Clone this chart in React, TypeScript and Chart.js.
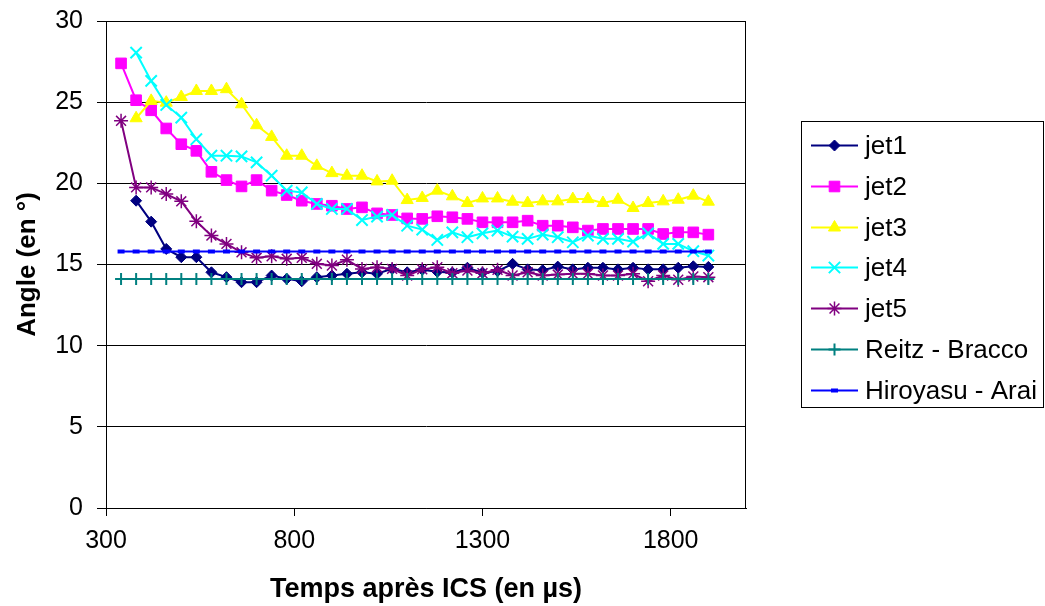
import React, { useEffect, useRef } from 'react';
import { Chart, registerables } from 'chart.js';
import { drawPoint } from 'chart.js/helpers';

Chart.register(...registerables);

// ---------- data ----------
const TIMES = [
  340, 380, 420, 460, 500, 540, 580, 620, 660, 700,
  740, 780, 820, 860, 900, 940, 980, 1020, 1060, 1100,
  1140, 1180, 1220, 1260, 1300, 1340, 1380, 1420, 1460, 1500,
  1540, 1580, 1620, 1660, 1700, 1740, 1780, 1820, 1860, 1900,
];

const JET1 = [
  null, 18.93, 17.64, 15.96, 15.45, 15.45, 14.52, 14.22, 13.91, 13.91,
  14.32, 14.12, 13.97, 14.22, 14.32, 14.43, 14.52, 14.43, 14.73, 14.52,
  14.68, 14.55, 14.5, 14.8, 14.5, 14.59, 15.04, 14.7, 14.65, 14.87,
  14.7, 14.8, 14.8, 14.7, 14.8, 14.7, 14.7, 14.8, 14.89, 14.85,
];

const JET2 = [
  27.39, 25.12, 24.5, 23.38, 22.41, 22.0, 20.71, 20.2, 19.81, 20.2,
  19.55, 19.28, 18.93, 18.73, 18.62, 18.42, 18.52, 18.15, 18.05, 17.84,
  17.81, 17.97, 17.91, 17.81, 17.6, 17.6, 17.6, 17.7, 17.39, 17.39,
  17.29, 17.09, 17.19, 17.19, 17.19, 17.19, 16.88, 16.98, 16.98, 16.84,
];

const JET3 = [
  null, 24.01, 25.08, 24.97, 25.32, 25.69, 25.69, 25.8, 24.87, 23.58,
  22.86, 21.7, 21.7, 21.08, 20.63, 20.47, 20.47, 20.12, 20.16, 18.97,
  19.1, 19.55, 19.2, 18.79, 19.07, 19.07, 18.87, 18.79, 18.89, 18.89,
  19.03, 19.03, 18.79, 18.99, 18.48, 18.79, 18.89, 18.99, 19.24, 18.87,
];

const JET4 = [
  null, 28.05, 26.31, 24.83, 24.05, 22.72, 21.7, 21.7, 21.66, 21.29,
  20.47, 19.55, 19.44, 18.73, 18.42, 18.42, 17.74, 17.95, 18.05, 17.39,
  17.15, 16.51, 16.98, 16.68, 16.92, 17.09, 16.72, 16.58, 16.84, 16.68,
  16.37, 16.78, 16.58, 16.58, 16.41, 16.92, 16.27, 16.27, 15.82, 15.55,
];

const JET5 = [
  23.85, 19.75, 19.75, 19.34, 18.89, 17.66, 16.78, 16.27, 15.75, 15.41,
  15.51, 15.35, 15.41, 15.04, 14.94, 15.29, 14.73, 14.83, 14.73, 14.32,
  14.7, 14.83, 14.46, 14.63, 14.46, 14.67, 14.32, 14.52, 14.32, 14.38,
  14.43, 14.43, 14.32, 14.32, 14.43, 13.97, 14.32, 14.06, 14.26, 14.22,
];

const REITZ_BRACCO = [
  14.1, 14.1, 14.1, 14.1, 14.1, 14.1, 14.1, 14.1, 14.1, 14.1,
  14.1, 14.1, 14.1, 14.1, 14.1, 14.1, 14.1, 14.1, 14.1, 14.1,
  14.1, 14.1, 14.1, 14.1, 14.1, 14.1, 14.1, 14.1, 14.1, 14.1,
  14.1, 14.1, 14.1, 14.1, 14.1, 14.1, 14.1, 14.1, 14.1, 14.1,
];

const HIROYASU_ARAI = [
  15.8, 15.8, 15.8, 15.8, 15.8, 15.8, 15.8, 15.8, 15.8, 15.8,
  15.8, 15.8, 15.8, 15.8, 15.8, 15.8, 15.8, 15.8, 15.8, 15.8,
  15.8, 15.8, 15.8, 15.8, 15.8, 15.8, 15.8, 15.8, 15.8, 15.8,
  15.8, 15.8, 15.8, 15.8, 15.8, 15.8, 15.8, 15.8, 15.8, 15.8,
];

const SERIES_NAMES = ['jet1', 'jet2', 'jet3', 'jet4', 'jet5', 'Reitz - Bracco', 'Hiroyasu - Arai'];
const X_TICKS = [300, 800, 1300, 1800];
const X_MIN = 300;
const X_MAX = 2000;
const Y_MIN = 0;
const Y_MAX = 30;
const Y_STEP = 5;
const X_TITLE = 'Temps après ICS (en µs)';
const Y_TITLE = 'Angle (en °)';

// ---------- styles ----------
const FONT = '"Liberation Sans", Arial, Helvetica, sans-serif';
const STYLES = [
  { color: '#000080', pointStyle: 'rectRot', radius: 5.5, pbw: 1 },
  { color: '#FF00FF', pointStyle: 'rect', radius: 7.5, pbw: 1 },
  { color: '#FFFF00', pointStyle: 'triangle', radius: 7, pbw: 1 },
  { color: '#00FFFF', pointStyle: 'crossRot', radius: 8, pbw: 2 },
  { color: '#800080', pointStyle: 'star', radius: 7, pbw: 1.5 },
  { color: '#008080', pointStyle: 'cross', radius: 6, pbw: 2 },
  { color: '#0000FF', pointStyle: 'line', radius: 3.5, pbw: 4 },
];

const ALL = [JET1, JET2, JET3, JET4, JET5, REITZ_BRACCO, HIROYASU_ARAI];

const toPoints = (vals: (number | null)[]) =>
  TIMES.map((t, i) => ({ x: t, y: vals[i] })).filter((p) => p.y !== null);

const framePlugin = {
  id: 'frame',
  beforeDatasetsDraw(chart: any) {
    const { ctx, chartArea } = chart;
    ctx.save();
    ctx.strokeStyle = '#000';
    ctx.lineWidth = 1;
    const l = Math.round(chartArea.left) + 0.5;
    const r = Math.round(chartArea.right) - 0.5;
    const t = Math.round(chartArea.top) + 0.5;
    const b = Math.round(chartArea.bottom) + 0.5;
    ctx.beginPath();
    ctx.moveTo(r, t);
    ctx.lineTo(r, b);
    ctx.moveTo(l, t);
    ctx.lineTo(r, t);
    ctx.stroke();
    ctx.restore();
  },
};

const legendPlugin = {
  id: 'customLegend',
  afterDraw(chart: any) {
    const { ctx } = chart;
    const boxL = 801;
    const boxT = 121;
    const boxW = 242;
    const boxH = 286;
    ctx.save();
    ctx.strokeStyle = '#000';
    ctx.lineWidth = 1;
    ctx.strokeRect(boxL + 0.5, boxT + 0.5, boxW, boxH);
    const rowTop = 145;
    const rowGap = 40.8;
    ctx.font = `26px ${FONT}`;
    ctx.textBaseline = 'middle';
    ctx.textAlign = 'left';
    SERIES_NAMES.forEach((name, i) => {
      const s = STYLES[i];
      const y = Math.round(rowTop + i * rowGap) + 0.5;
      ctx.strokeStyle = s.color;
      ctx.fillStyle = s.color;
      ctx.lineWidth = 2;
      ctx.beginPath();
      ctx.moveTo(811, y);
      ctx.lineTo(858, y);
      ctx.stroke();
      ctx.lineWidth = s.pbw;
      drawPoint(ctx, { radius: s.radius, pointStyle: s.pointStyle, rotation: 0, borderWidth: s.pbw }, 834.5, y);
      ctx.fillStyle = '#000';
      ctx.fillText(name, 865, y + 1);
    });
    ctx.restore();
  },
};

export default function App() {
  const canvasRef = useRef<HTMLCanvasElement | null>(null);

  useEffect(() => {
    if (!canvasRef.current) return;
    Chart.defaults.font.family = FONT;
    Chart.defaults.color = '#000';

    const datasets = ALL.map((vals, i) => ({
      label: SERIES_NAMES[i],
      data: toPoints(vals),
      borderColor: STYLES[i].color,
      backgroundColor: STYLES[i].color,
      pointBackgroundColor: STYLES[i].color,
      pointBorderColor: STYLES[i].color,
      pointStyle: STYLES[i].pointStyle,
      pointRadius: STYLES[i].radius,
      pointBorderWidth: STYLES[i].pbw,
      borderWidth: 2,
      tension: 0,
      fill: false,
      order: ALL.length - i,
    }));

    const chart = new Chart(canvasRef.current, {
      type: 'line',
      data: { datasets },
      plugins: [framePlugin, legendPlugin],
      options: {
        animation: false,
        responsive: true,
        maintainAspectRatio: false,
        layout: { padding: { left: 0, top: 21, right: 299, bottom: 0 } },
        plugins: {
          legend: { display: false },
          tooltip: { enabled: false },
        },
        scales: {
          x: {
            type: 'linear',
            min: X_MIN,
            max: X_MAX,
            afterBuildTicks: (scale: any) => {
              scale.ticks = X_TICKS.map((v) => ({ value: v }));
            },
            afterFit: (scale: any) => {
              scale.height = 98;
              scale.paddingLeft = 0;
              scale.paddingRight = 0;
            },
            grid: {
              drawOnChartArea: false,
              drawTicks: true,
              tickLength: 8,
              color: '#000',
              tickColor: '#000',
            },
            border: { display: true, color: '#000', width: 1 },
            ticks: {
              font: { size: 25 },
              color: '#000',
              padding: 10,
              maxRotation: 0,
              autoSkip: false,
              callback: (v: any) => String(v),
            },
            title: {
              display: true,
              text: X_TITLE,
              font: { size: 27, weight: 'bold' },
              color: '#000',
              padding: { top: 0, bottom: 0 },
            },
          },
          y: {
            min: Y_MIN,
            max: Y_MAX,
            afterFit: (scale: any) => {
              scale.width = 106;
              scale.paddingTop = 0;
              scale.paddingBottom = 0;
            },
            ticks: {
              stepSize: Y_STEP,
              font: { size: 25 },
              color: '#000',
              padding: 14,
              callback: (v: any) => String(v),
            },
            grid: {
              drawOnChartArea: true,
              drawTicks: true,
              tickLength: 9,
              color: '#000',
              tickColor: '#000',
              lineWidth: 1,
            },
            border: { display: true, color: '#000', width: 1 },
            title: {
              display: true,
              text: Y_TITLE,
              font: { size: 26, weight: 'bold' },
              color: '#000',
              padding: { top: 12, bottom: 0 },
            },
          },
        },
      },
    });
    return () => chart.destroy();
  }, []);

  return (
    <div style={{ position: 'fixed', left: 0, top: 0, width: 1045, height: 606, background: '#fff' }}>
      <canvas ref={canvasRef} />
    </div>
  );
}
